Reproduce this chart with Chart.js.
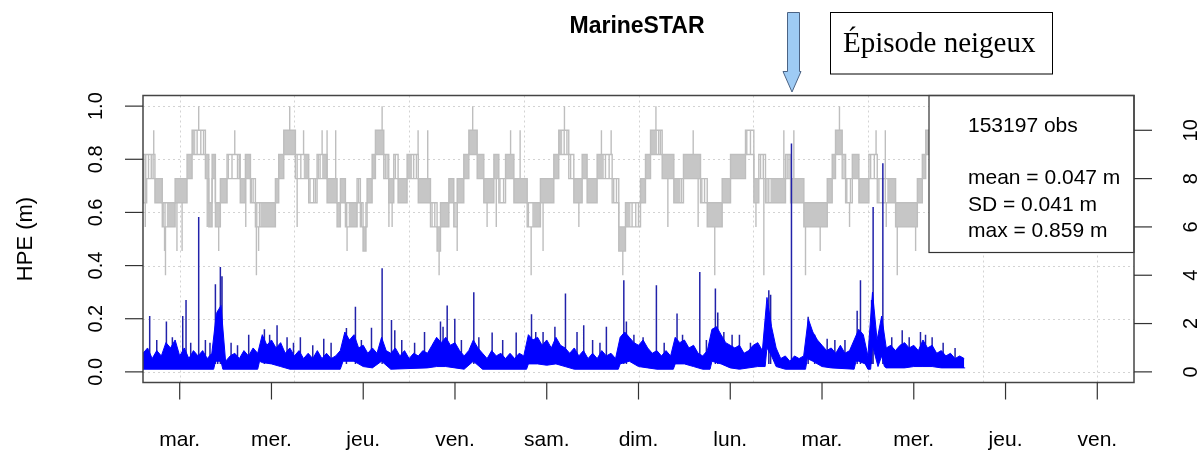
<!DOCTYPE html>
<html>
<head>
<meta charset="utf-8">
<title>MarineSTAR</title>
<script src="https://cdn.jsdelivr.net/npm/chart.js@4/dist/chart.umd.min.js"></script>
<style>
	html, body { margin: 0; padding: 0; background: #fff; }
	#hpeChart { display: block; }
</style>
</head>
<body>
<canvas id="hpeChart" width="1204" height="451"></canvas>
<script>
// Day labels (x axis ticks at whole days)
const dayTicks = [ 0, 1, 2, 3, 4, 5, 6, 7, 8, 9, 10 ];
const dayLabels = [ 'mar.', 'mer.', 'jeu.', 'ven.', 'sam.', 'dim.', 'lun.', 'mar.', 'mer.', 'jeu.', 'ven.' ];
const gridDays = [ 0, 1.25, 2.5, 3.75, 5, 6.25, 7.5, 8.75, 10 ];

// Left axis (HPE, m) and right axis (satellites)
const hpeTicks = [ 0, 0.2, 0.4, 0.6, 0.8, 1.0 ];
const satTicks = [ 0, 2, 4, 6, 8, 10 ];

// HPE trace, top edge every 0.05 day from day -0.4
const hpeStart = -0.4;
const hpeStep = 0.05;
const hpeTop = [
	0.07, 0.09, 0.05, 0.08, 0.06, 0.11, 0.09, 0.12, 0.06, 0.09, 0.05, 0.08, 0.06, 0.08, 0.05, 0.07, 0.22, 0.25, 0.04, 0.06,
	0.07, 0.05, 0.08, 0.06, 0.09, 0.07, 0.14, 0.1, 0.12, 0.09, 0.11, 0.07, 0.09, 0.06, 0.08, 0.05, 0.07, 0.05, 0.08, 0.05,
	0.07, 0.05, 0.06, 0.08, 0.15, 0.12, 0.14, 0.09, 0.1, 0.07, 0.09, 0.07, 0.13, 0.08, 0.07, 0.09, 0.06, 0.08, 0.05, 0.07,
	0.06, 0.08, 0.07, 0.1, 0.13, 0.11, 0.13, 0.1, 0.11, 0.08, 0.06, 0.08, 0.12, 0.09, 0.07, 0.05, 0.08, 0.06, 0.07, 0.05,
	0.07, 0.05, 0.07, 0.06, 0.14, 0.12, 0.13, 0.1, 0.12, 0.09, 0.13, 0.1, 0.09, 0.07, 0.09, 0.06, 0.08, 0.05, 0.07, 0.05,
	0.08, 0.06, 0.07, 0.05, 0.13, 0.15, 0.13, 0.11, 0.1, 0.12, 0.09, 0.07, 0.08, 0.06, 0.08, 0.06, 0.13, 0.11, 0.12, 0.09,
	0.1, 0.07, 0.06, 0.08, 0.16, 0.17, 0.14, 0.11, 0.1, 0.09, 0.1, 0.07, 0.08, 0.1, 0.11, 0.08, 0.28, 0.17, 0.09, 0.05,
	0.06, 0.04, 0.06, 0.05, 0.06, 0.2, 0.15, 0.12, 0.1, 0.08, 0.09, 0.07, 0.1, 0.07, 0.08, 0.12, 0.16, 0.14, 0.06, 0.3,
	0.12, 0.21, 0.09, 0.1, 0.08, 0.1, 0.11, 0.09, 0.1, 0.08, 0.12, 0.09, 0.1, 0.07, 0.08, 0.06, 0.07, 0.05, 0.06, 0.05,
];

// HPE trace, bottom edge (lifts where the whole band rises)
const lowDay = [
	-0.4, 0.37, 0.39, 0.45, 0.47, 0.85, 0.87, 0.9, 1.0, 1.1, 1.2, 1.75, 1.78, 1.9, 2.0, 2.1, 2.2, 2.3,
	2.7, 2.8, 2.9, 3.0, 3.1, 3.2, 3.3, 3.78, 3.8, 3.9, 4.0, 4.1, 4.2, 4.3, 4.78, 4.8, 4.9, 5.0, 5.1, 5.2,
	5.38, 5.4, 5.5, 5.6, 5.7, 5.78, 5.8, 5.9, 6.0, 6.1, 6.3, 6.38, 6.4, 6.45, 6.5, 6.6, 6.82, 6.84, 6.9, 7.0, 7.1,
	7.35, 7.37, 7.4, 7.47, 7.5, 7.53, 7.55, 7.58, 7.61, 7.65, 7.68, 7.7, 7.9, 8.0, 8.1, 8.2, 8.3, 8.56,
];
const hpeLow = [
	0.01, 0.01, 0.04, 0.04, 0.01, 0.01, 0.04, 0.035, 0.03, 0.02, 0.01, 0.01, 0.04, 0.04, 0.02, 0.015, 0.04, 0.01,
	0.015, 0.02, 0.02, 0.015, 0.01, 0.04, 0.01, 0.01, 0.03, 0.03, 0.025, 0.03, 0.02, 0.01, 0.01, 0.03, 0.04, 0.02, 0.015, 0.01,
	0.01, 0.03, 0.03, 0.02, 0.01, 0.01, 0.04, 0.03, 0.015, 0.01, 0.02, 0.02, 0.09, 0.06, 0.02, 0.01, 0.01, 0.05, 0.04, 0.02, 0.015,
	0.01, 0.04, 0.04, 0.03, 0.01, 0.01, 0.1, 0.06, 0.02, 0.06, 0.02, 0.015, 0.015, 0.02, 0.02, 0.02, 0.015, 0.015,
];

// Isolated HPE peaks
const peakDay = [
	-0.327, -0.25, -0.145, -0.08, 0.033, 0.069, 0.12, 0.207, 0.28, 0.33, 0.389, 0.414, 0.443, 0.461, 0.56, 0.63,
	0.752, 0.923, 0.98, 1.061, 1.17, 1.24, 1.315, 1.45, 1.57, 1.65, 1.817, 1.915, 1.98, 2.09, 2.206, 2.308,
	2.344, 2.42, 2.56, 2.668, 2.842, 2.87, 2.915, 2.998, 3.07, 3.205, 3.26, 3.405, 3.52, 3.667, 3.834, 3.88,
	3.96, 4.089, 4.204, 4.33, 4.403, 4.5, 4.58, 4.65, 4.84, 4.868, 4.95, 5.05, 5.195, 5.28, 5.42, 5.48,
	5.668, 5.74, 5.838, 5.864, 5.93, 6.02, 6.1, 6.22, 6.42, 6.44, 6.667, 6.849, 6.92, 7.056, 7.14, 7.25,
	7.383, 7.419, 7.54, 7.557, 7.663, 7.76, 7.874, 7.95, 8.073, 8.128, 8.2, 8.32, 8.45,
];
const peakHpe = [
	0.21, 0.12, 0.19, 0.13, 0.21, 0.27, 0.11, 0.583, 0.12, 0.11, 0.33, 0.23, 0.395, 0.36, 0.11, 0.1,
	0.14, 0.16, 0.14, 0.175, 0.13, 0.11, 0.13, 0.1, 0.125, 0.11, 0.165, 0.245, 0.12, 0.166, 0.39, 0.195,
	0.157, 0.12, 0.11, 0.15, 0.19, 0.17, 0.25, 0.2, 0.12, 0.3, 0.13, 0.148, 0.12, 0.148, 0.217, 0.15,
	0.15, 0.17, 0.295, 0.15, 0.175, 0.12, 0.11, 0.17, 0.345, 0.19, 0.14, 0.13, 0.326, 0.11, 0.22, 0.14,
	0.376, 0.12, 0.314, 0.223, 0.15, 0.14, 0.14, 0.11, 0.307, 0.29, 0.859, 0.207, 0.14, 0.125, 0.12, 0.12,
	0.23, 0.345, 0.27, 0.62, 0.785, 0.13, 0.157, 0.13, 0.15, 0.14, 0.13, 0.11, 0.09,
];

// Satellite count: segments starting at satDay, toggling between satLo and satHi
// (satDense = 1 where the toggling is so fast the block looks solid)
const satDay = [
	-0.4, -0.36, -0.27, -0.19, -0.14, -0.05, 0.08, 0.135, 0.17, 0.28, 0.317, 0.353, 0.389, 0.443, 0.516, 0.66,
	0.716, 0.771, 0.825, 0.879, 1.043, 1.079, 1.134, 1.261, 1.352, 1.406, 1.497, 1.552, 1.606, 1.715, 1.751, 1.806,
	1.842, 1.933, 1.969, 1.998, 2.03, 2.042, 2.097, 2.133, 2.224, 2.278, 2.333, 2.38, 2.478, 2.533, 2.6, 2.733,
	2.805, 2.842, 2.933, 2.987, 3.024, 3.096, 3.151, 3.242, 3.314, 3.424, 3.478, 3.551, 3.642, 3.787, 3.842, 3.931,
	4.077, 4.131, 4.168, 4.24, 4.295, 4.386, 4.44, 4.549, 4.622, 4.713, 4.785, 4.858, 4.912, 5.022, 5.076, 5.131,
	5.203, 5.258, 5.385, 5.458, 5.49, 5.676, 5.749, 5.912, 6.003, 6.166, 6.257, 6.311, 6.384, 6.438, 6.602, 6.657,
	6.802, 7.057, 7.111, 7.147, 7.22, 7.257, 7.33, 7.402, 7.511, 7.602, 7.711, 7.802, 8.039, 8.093, 8.13, 8.56,
];
const satLo = [
	7, 8, 7, 6, 6, 7, 8, 9, 9, 8, 6, 8, 6, 7, 8, 7,
	8, 7, 6, 6, 7, 8, 9, 8, 8, 7, 8, 8, 7, 6, 7, 6,
	6, 7, 6, 5, 6, 7, 8, 9, 8, 7, 8, 7, 8, 8, 7, 6,
	5, 6, 7, 6, 7, 8, 9, 8, 7, 8, 7, 8, 7, 6, 6, 7,
	8, 9, 9, 8, 7, 8, 7, 8, 8, 7, 5, 6, 6, 7, 8, 9,
	9, 8, 7, 7, 8, 7, 6, 7, 8, 9, 7, 8, 7, 7, 8, 7,
	6, 7, 8, 9, 8, 7, 8, 7, 8, 7, 7, 6, 7, 8, 9, 9,
];
const satHi = [
	9, 9, 8, 7, 7, 8, 9, 10, 10, 9, 7, 9, 7, 8, 9, 8,
	9, 8, 7, 7, 8, 9, 10, 9, 9, 8, 9, 9, 8, 7, 8, 7,
	7, 8, 7, 6, 7, 8, 9, 10, 9, 8, 9, 8, 9, 9, 8, 7,
	6, 7, 8, 7, 8, 9, 10, 9, 8, 9, 8, 9, 8, 7, 7, 8,
	9, 10, 10, 9, 8, 9, 8, 9, 9, 8, 6, 7, 7, 8, 9, 10,
	10, 9, 8, 8, 9, 8, 7, 8, 9, 10, 8, 9, 8, 8, 9, 8,
	7, 8, 9, 10, 9, 8, 9, 8, 9, 8, 8, 7, 8, 9, 10, 10,
];
const satDense = [
	0, 0, 1, 0, 1, 1, 1, 1, 0, 1, 1, 1, 1, 1, 0, 1,
	1, 0, 0, 1, 1, 1, 1, 0, 1, 0, 0, 1, 1, 1, 1, 0,
	1, 0, 0, 1, 0, 1, 1, 1, 0, 1, 0, 1, 1, 0, 1, 0,
	1, 1, 1, 0, 1, 1, 1, 1, 1, 1, 0, 1, 1, 0, 1, 1,
	1, 1, 0, 0, 1, 1, 1, 1, 0, 0, 1, 1, 0, 1, 1, 1,
	0, 1, 1, 0, 1, 0, 1, 1, 1, 0, 1, 0, 0, 1, 0, 1,
	1, 1, 1, 1, 0, 0, 1, 1, 0, 0, 1, 1, 1, 1, 1, 1,
];

// Single switches inside the sparse segments (full lo-hi strokes)
const satToggleDay = [
	-0.39, -0.37, -0.34, -0.31, -0.29, -0.18, -0.16, 0.19, 0.23, 0.26, 0.53, 0.57, 0.63, 0.65, 0.78, 0.8,
	0.84, 0.87, 1.28, 1.32, 1.42, 1.46, 1.48, 1.51, 1.53, 1.82, 1.95, 1.98, 2.24, 2.26, 2.35, 2.55,
	2.58, 2.75, 2.78, 3.0, 3.49, 3.53, 3.8, 4.19, 4.22, 4.26, 4.64, 4.68, 4.73, 4.76, 4.93, 4.97,
	5.0, 5.22, 5.24, 5.47, 5.69, 5.72, 6.18, 6.22, 6.33, 6.36, 6.4, 6.42, 6.62, 6.64, 7.24, 7.27,
	7.31, 7.53, 7.57, 7.62, 7.66, 7.69,
];

// Short excursions of the satellite count
const satSpikeDay = [
	-0.375, -0.283, -0.165, -0.155, -0.03, 0.026, 0.207, 0.3, 0.425, 0.6, 0.72, 0.836, 0.86, 1.199, 1.28, 1.35,
	1.552, 1.606, 1.7, 1.824, 2.206, 2.28, 2.315, 2.598, 2.703, 2.827, 3.024, 3.193, 3.35, 3.45, 3.606, 3.71,
	3.83, 3.96, 4.193, 4.35, 4.596, 4.702, 4.829, 5.19, 5.32, 5.596, 5.65, 5.831, 6.28, 6.366, 6.584, 6.693,
	6.82, 6.98, 7.19, 7.3, 7.589, 7.69, 7.7, 7.82, 8.02,
];
const satSpikeLevel = [
	6, 10, 5, 4, 5, 5, 11, 6, 5, 10, 6, 4, 5, 11, 6, 10,
	10, 10, 10, 5, 11, 6, 6, 10, 10, 4, 5, 11, 6, 6, 10, 10,
	4, 5, 11, 6, 10, 10, 4, 11, 6, 10, 6, 4, 6, 4, 10, 10,
	4, 5, 11, 6, 10, 10, 6, 4, 5,
];

// Summary box text
const statLines = [ '153197 obs', '', 'mean = 0.047 m', 'SD = 0.041 m', 'max = 0.859 m' ];

const SANS = '"Liberation Sans", Arial, Helvetica, sans-serif';
const HPE_BLUE = '#0000ff';
const SAT_GREY = '#bebebe';

function satSegmentAt( day ) {
	let idx = 0;
	satDay.forEach( ( d, i ) => {
		if ( d <= day ) {
			idx = i;
		}
	} );
	return idx;
}

// vertical strokes: { day, from, to } -> points separated by gaps
function verticalLines( days, fromFor, toFor ) {
	const pts = [];
	days.forEach( ( d, i ) => {
		pts.push( { x: d, y: fromFor( d, i ) } );
		pts.push( { x: d, y: toFor( d, i ) } );
		pts.push( { x: d, y: null } );
	} );
	return pts;
}

// R-like frame, grid, rotated tick labels, summary box and annotation
const rFrame = {
	id: 'rFrame',
	beforeDatasetsDraw( chart ) {
		const { ctx, chartArea: area } = chart;
		const xs = chart.scales.x;
		const ys = chart.scales.y;
		ctx.save();
		ctx.strokeStyle = '#d3d3d3';
		ctx.lineWidth = 1;
		ctx.setLineDash( [ 2, 3 ] );
		gridDays.forEach( ( d ) => {
			const x = Math.round( xs.getPixelForValue( d ) ) + 0.5;
			ctx.beginPath();
			ctx.moveTo( x, area.top );
			ctx.lineTo( x, area.bottom );
			ctx.stroke();
		} );
		hpeTicks.forEach( ( v ) => {
			const y = Math.round( ys.getPixelForValue( v ) ) + 0.5;
			ctx.beginPath();
			ctx.moveTo( area.left, y );
			ctx.lineTo( area.right, y );
			ctx.stroke();
		} );
		ctx.restore();
	},
	afterDatasetsDraw( chart ) {
		const { ctx, chartArea: area } = chart;
		const xs = chart.scales.x;
		const ys = chart.scales.y;
		const ys2 = chart.scales.y2;
		ctx.save();

		// Summary box
		const boxLeft = area.right - 205;
		ctx.fillStyle = '#fff';
		ctx.fillRect( boxLeft, area.top, area.right - boxLeft, 157 );
		ctx.strokeStyle = '#333';
		ctx.lineWidth = 1.2;
		ctx.strokeRect( boxLeft, area.top, area.right - boxLeft, 157 );
		ctx.fillStyle = '#000';
		ctx.font = '21px ' + SANS;
		ctx.textAlign = 'left';
		ctx.textBaseline = 'alphabetic';
		statLines.forEach( ( line, i ) => {
			const base = i === 0 ? 131.5 : 184 + ( i - 2 ) * 26.5;
			ctx.fillText( line, boxLeft + 39, base );
		} );

		// Plot frame
		ctx.strokeStyle = '#444';
		ctx.lineWidth = 1.5;
		ctx.strokeRect( area.left, area.top, area.right - area.left, area.bottom - area.top );

		// Tick marks
		ctx.lineWidth = 1.2;
		ctx.strokeStyle = '#333';
		dayTicks.forEach( ( d ) => {
			const x = xs.getPixelForValue( d );
			ctx.beginPath();
			ctx.moveTo( x, area.bottom );
			ctx.lineTo( x, area.bottom + 17 );
			ctx.stroke();
		} );
		hpeTicks.forEach( ( v ) => {
			const y = ys.getPixelForValue( v );
			ctx.beginPath();
			ctx.moveTo( area.left - 18, y );
			ctx.lineTo( area.left, y );
			ctx.stroke();
		} );
		satTicks.forEach( ( v ) => {
			const y = ys2.getPixelForValue( v );
			ctx.beginPath();
			ctx.moveTo( area.right, y );
			ctx.lineTo( area.right + 18, y );
			ctx.stroke();
		} );

		// Tick labels
		ctx.fillStyle = '#000';
		ctx.font = '21px ' + SANS;
		ctx.textAlign = 'center';
		dayTicks.forEach( ( d, i ) => {
			ctx.fillText( dayLabels[ i ], xs.getPixelForValue( d ), 446 );
		} );
		ctx.font = '20px ' + SANS;
		hpeTicks.forEach( ( v ) => {
			ctx.save();
			ctx.translate( 102, ys.getPixelForValue( v ) );
			ctx.rotate( -Math.PI / 2 );
			ctx.fillText( v.toFixed( 1 ), 0, 0 );
			ctx.restore();
		} );
		satTicks.forEach( ( v ) => {
			ctx.save();
			ctx.translate( 1197, ys2.getPixelForValue( v ) );
			ctx.rotate( -Math.PI / 2 );
			ctx.fillText( String( v ), 0, 0 );
			ctx.restore();
		} );

		// Axis title
		ctx.save();
		ctx.font = '22px ' + SANS;
		ctx.translate( 32, ( area.top + area.bottom ) / 2 );
		ctx.rotate( -Math.PI / 2 );
		ctx.fillText( 'HPE (m)', 0, 0 );
		ctx.restore();

		// Main title
		ctx.font = 'bold 23px ' + SANS;
		ctx.fillText( 'MarineSTAR', 637, 33.3 );

		// Snow episode annotation
		ctx.strokeStyle = '#000';
		ctx.lineWidth = 1;
		ctx.strokeRect( 830.5, 12.5, 222, 61.5 );
		ctx.font = '29px "Liberation Serif", "Times New Roman", serif';
		ctx.textAlign = 'left';
		ctx.fillText( 'Épisode neigeux', 843, 51.7 );

		ctx.beginPath();
		ctx.moveTo( 787.5, 12.5 );
		ctx.lineTo( 799.5, 12.5 );
		ctx.lineTo( 799.5, 71.5 );
		ctx.lineTo( 801, 71.5 );
		ctx.lineTo( 792, 92 );
		ctx.lineTo( 783, 71.5 );
		ctx.lineTo( 787.5, 71.5 );
		ctx.closePath();
		ctx.fillStyle = '#9ecbf4';
		ctx.fill();
		ctx.strokeStyle = '#4b6384';
		ctx.stroke();

		ctx.restore();
	},
};

function initHpeChart() {
	const ctx = document.getElementById( 'hpeChart' ).getContext( '2d' );

	const topPts = hpeTop.map( ( v, i ) => ( { x: hpeStart + i * hpeStep, y: v } ) );
	const lowPts = lowDay.map( ( d, i ) => ( { x: d, y: hpeLow[ i ] } ) );
	const peakPts = verticalLines(
		peakDay,
		() => 0.03,
		( d, i ) => peakHpe[ i ]
	);

	const satHiPts = satDay.map( ( d, i ) => ( { x: d, y: satHi[ i ] } ) );
	const satLoPts = satDay.map( ( d, i ) => ( { x: d, y: satLo[ i ] } ) );
	const satFillPts = satDay.map( ( d, i ) => ( {
		x: d,
		y: satDense[ i ] ? satHi[ i ] : satLo[ i ],
	} ) );
	const satSpikePts = verticalLines(
		satSpikeDay,
		( d, i ) => {
			const k = satSegmentAt( d );
			return satSpikeLevel[ i ] > satHi[ k ] ? satHi[ k ] : satLo[ k ];
		},
		( d, i ) => satSpikeLevel[ i ]
	);
	const satTogglePts = verticalLines(
		satToggleDay,
		( d ) => satLo[ satSegmentAt( d ) ],
		( d ) => satHi[ satSegmentAt( d ) ]
	);

	const line = {
		pointRadius: 0,
		borderWidth: 1,
		tension: 0,
		spanGaps: false,
	};

	// Datasets are painted last-to-first: blue band over its peaks, all over the grey
	new Chart( ctx, {
		type: 'line',
		data: {
			datasets: [
				{ ...line, data: topPts, borderColor: HPE_BLUE, backgroundColor: HPE_BLUE, fill: '+1', yAxisID: 'y' },
				{ ...line, data: lowPts, borderColor: HPE_BLUE, fill: false, yAxisID: 'y' },
				{ ...line, data: peakPts, borderColor: '#2222aa', borderWidth: 1.5, fill: false, yAxisID: 'y' },
				{ ...line, data: satSpikePts, borderColor: SAT_GREY, borderWidth: 1.4, fill: false, yAxisID: 'y2' },
				{ ...line, data: satTogglePts, borderColor: SAT_GREY, borderWidth: 1.4, fill: false, yAxisID: 'y2' },
				{ ...line, data: satHiPts, borderColor: SAT_GREY, borderWidth: 1.4, stepped: true, fill: false, yAxisID: 'y2' },
				{ ...line, data: satLoPts, borderColor: SAT_GREY, borderWidth: 1.4, stepped: true, fill: false, yAxisID: 'y2' },
				{
					...line,
					data: satFillPts,
					borderWidth: 0,
					borderColor: 'rgba(0,0,0,0)',
					backgroundColor: '#c6c6c6',
					stepped: true,
					fill: 6,
					yAxisID: 'y2',
				},
			],
		},
		options: {
			responsive: false,
			animation: false,
			devicePixelRatio: 1,
			events: [],
			layout: {
				padding: { left: 143, right: 70, top: 95.5, bottom: 68.5 },
			},
			plugins: {
				legend: { display: false },
				tooltip: { enabled: false },
				title: { display: false },
			},
			scales: {
				x: { type: 'linear', display: false, min: -0.4, max: 10.4 },
				y: { type: 'linear', display: false, min: -0.04, max: 1.04 },
				y2: { type: 'linear', display: false, min: -0.44, max: 11.44 },
			},
		},
		plugins: [ rFrame ],
	} );
}

initHpeChart();
</script>
</body>
</html>
